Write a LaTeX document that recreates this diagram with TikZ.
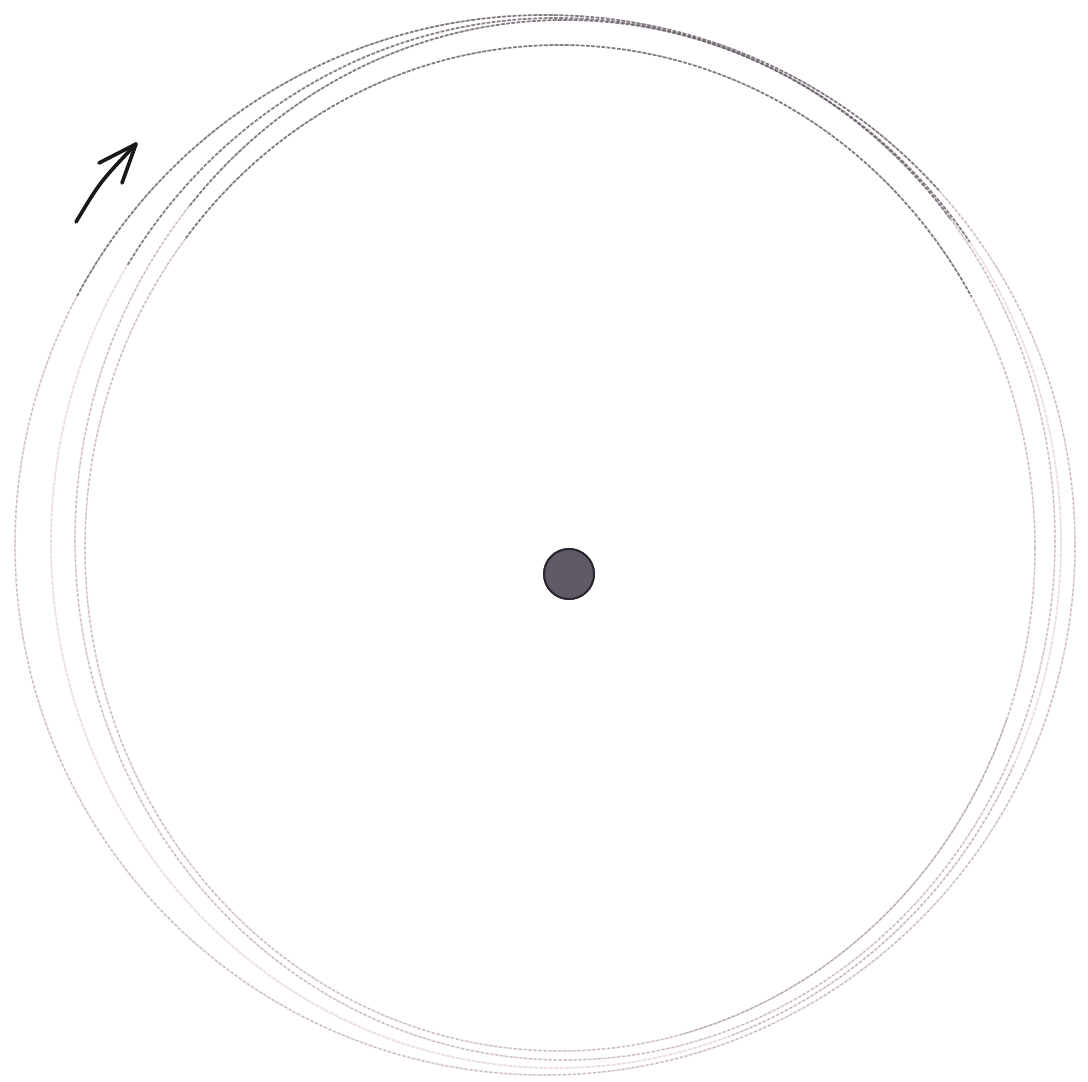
\documentclass[tikz,border=0pt]{standalone}
\begin{document}
\begin{tikzpicture}[x=0.025cm,y=-0.025cm,
  pencil/.style={draw=pencilc,line width=1.3pt,opacity=0.7,dash pattern=on 3pt off 0.7pt},
  pencildark/.style={draw=pencild,line width=1.2pt,opacity=0.75,dash pattern=on 2.5pt off 1.2pt},
  pencilmid/.style={draw=pencilm,line width=0.8pt,opacity=0.6,dash pattern=on 1.5pt off 2pt},
  inkarrow/.style={draw=black!90,line width=2.6pt,line cap=round,line join=round}]
\definecolor{pencilc}{rgb}{0.90,0.82,0.86}
\definecolor{pencilm}{rgb}{0.62,0.58,0.62}
\definecolor{pencild}{rgb}{0.38,0.37,0.40}
\definecolor{dotfill}{rgb}{0.38,0.35,0.40}
\definecolor{dotrim}{rgb}{0.16,0.15,0.18}
\useasboundingbox (0,0) rectangle (1088,1082);
\fill[white] (0,0) rectangle (1088,1082);
% full pencil loops
\draw[pencil] (545,545) ellipse [x radius=530, y radius=530];
\draw[pencil] (565,540) ellipse [x radius=490, y radius=520];
\draw[pencil] (560,548) ellipse [x radius=475, y radius=503];
\draw[pencil] (556,543) ellipse [x radius=505, y radius=525];
% grey grain along the loops
\draw[pencilmid] (545,545) ellipse [x radius=530, y radius=530];
\draw[pencilmid] (565,540) ellipse [x radius=490, y radius=520];
\draw[pencilmid] (560,548) ellipse [x radius=475, y radius=503];
% darker strokes over the top
\draw[pencildark] (545,545) ++(208:530 and 530) arc[start angle=208,end angle=318,x radius=530,y radius=530];
\draw[pencildark] (556,543) ++(212:505 and 525) arc[start angle=212,end angle=325,x radius=505,y radius=525];
\draw[pencildark] (565,540) ++(220:490 and 520) arc[start angle=220,end angle=322,x radius=490,y radius=520];
\draw[pencildark] (560,548) ++(218:475 and 503) arc[start angle=218,end angle=330,x radius=475,y radius=503];
% darker strokes lower right
\draw[pencilmid,opacity=0.8] (560,548) ++(20:475 and 503) arc[start angle=20,end angle=75,x radius=475,y radius=503];
\draw[pencilmid,opacity=0.7] (556,543) ++(25:505 and 525) arc[start angle=25,end angle=70,x radius=505,y radius=525];
% central dot
\fill[dotfill] (569,574) circle (26);
\draw[dotrim,line width=1.4pt] (569,574) circle (25);
% arrow
\coordinate (tail) at (76,222);
\coordinate (tip) at (136,144);
\coordinate (barbL) at (99,163);
\coordinate (barbR) at (122,183);
\draw[inkarrow] (tail) .. controls (100,182) .. (tip);
\draw[inkarrow] (barbL) -- (tip) -- (barbR);
\end{tikzpicture}
\end{document}
